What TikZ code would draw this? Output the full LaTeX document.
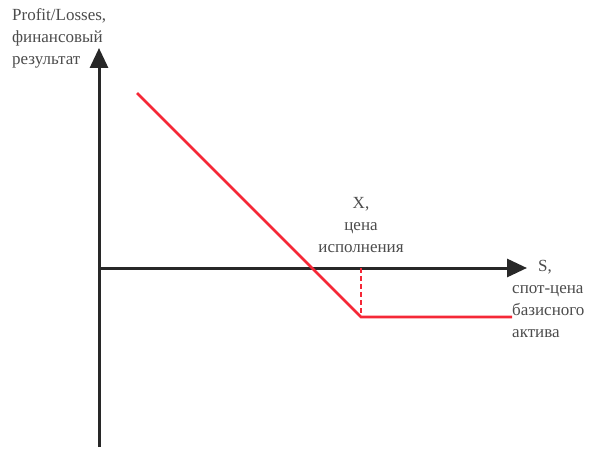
\documentclass[tikz,border=0pt]{standalone}
\usepackage{fontspec}
\setmainfont{Liberation Serif}
\usetikzlibrary{arrows.meta}
\definecolor{payred}{RGB}{245,40,55}
\definecolor{axisgray}{RGB}{40,40,40}
\begin{document}
\begin{tikzpicture}[x=1pt,y=-1pt,
  axis/.style={line width=3pt,draw=axisgray,-{Triangle[length=20pt,width=18pt]}},
  payoff/.style={line width=2.6pt,draw=payred},
  lbl/.style={font=\fontsize{17}{22}\selectfont,text=black!70,inner sep=0pt},
]
\useasboundingbox (0,0) rectangle (593,454);
\coordinate (O) at (99,268);
\coordinate (ybot) at (99,447);
\coordinate (ytop) at (99,48);
\coordinate (xend) at (527,268);
\coordinate (p1) at (137,93);
\coordinate (p2) at (361,317);
\coordinate (p3) at (512,317);
\coordinate (xs) at (361,268);
\draw[axis] (ybot) -- (ytop);
\draw[axis] (O) -- (xend);
\draw[payoff] (p1) -- (p2) -- (p3);
\draw[payoff,dashed,dash pattern=on 5pt off 3pt] (xs) -- (p2);
\node[lbl,align=left,anchor=north west] (ylab) at (12,8) {Profit/Losses,\\финансовый\\результат};
\node[lbl,align=center,anchor=south] (xlab) at (361,253) {X,\\цена\\исполнения};
\node[lbl,align=left,anchor=north west] (slab) at (512,260) {\hspace*{26pt}S,\\спот-цена\\базисного\\актива};
\end{tikzpicture}
\end{document}
